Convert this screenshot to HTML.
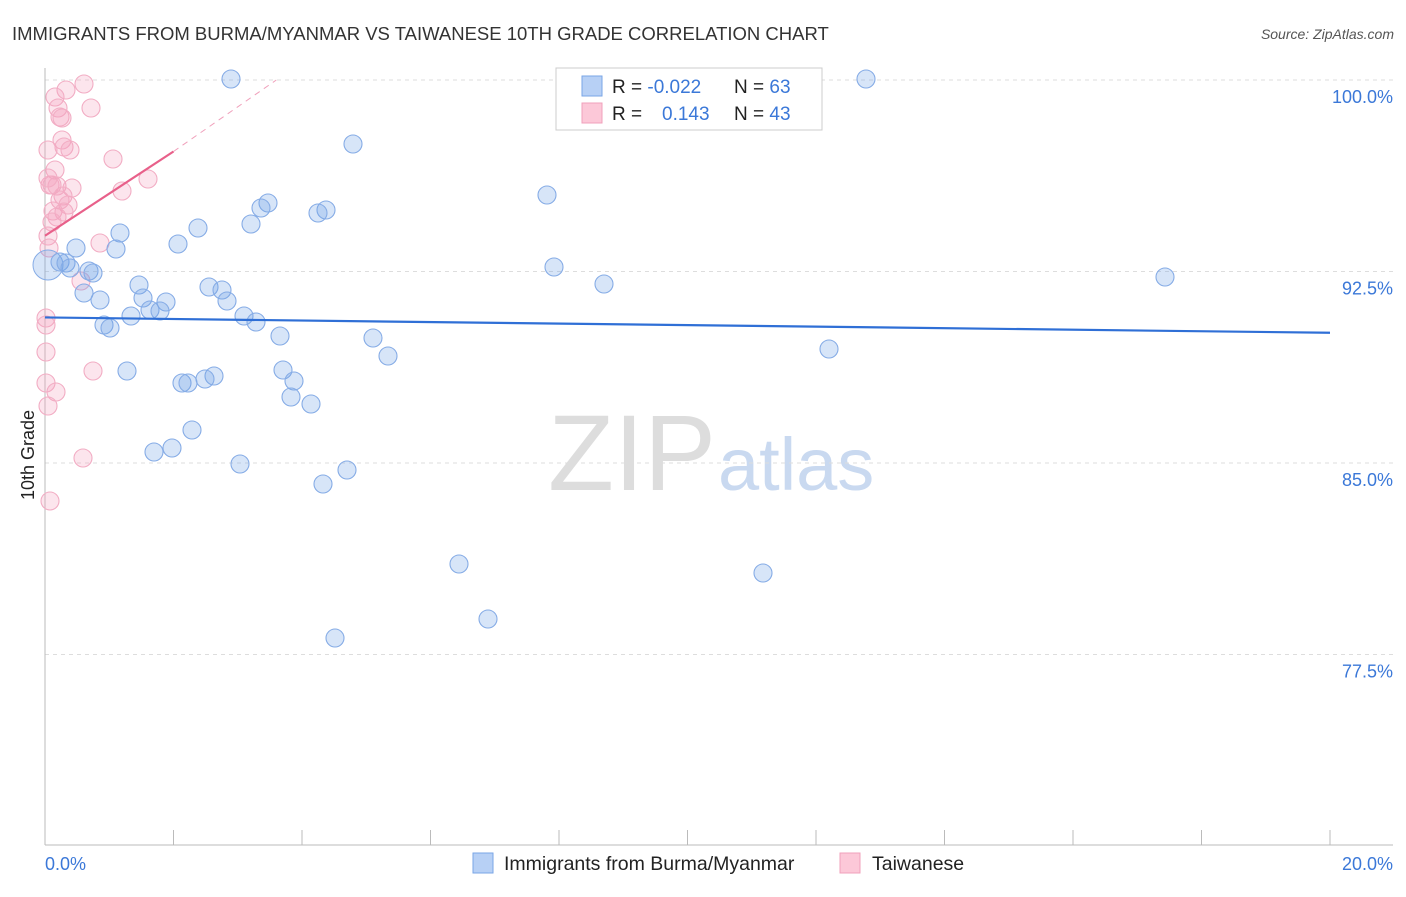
<!DOCTYPE html>
<html><head><meta charset="utf-8"><style>
body{margin:0;background:#fff;font-family:"Liberation Sans",sans-serif}
svg text{font-family:"Liberation Sans",sans-serif}
</style></head><body>
<svg width="1406" height="892" viewBox="0 0 1406 892">
<text x="12" y="40" font-size="18.5" fill="#333">IMMIGRANTS FROM BURMA/MYANMAR VS TAIWANESE 10TH GRADE CORRELATION CHART</text>
<text x="1394" y="39" font-size="14" fill="#555" text-anchor="end" font-style="italic">Source: ZipAtlas.com</text>
<text x="716" y="490" font-size="108" fill="#ddd" text-anchor="end" font-family="Liberation Serif">ZIP</text>
<text x="718" y="490" font-size="74" fill="#c9d9f0">atlas</text>
<g id="grid"></g>
<line x1="45" y1="68" x2="45" y2="845" stroke="#bbb"/>
<line x1="45" y1="845" x2="1393" y2="845" stroke="#bbb"/>
<g id="xt"></g>
<text x="45" y="870" font-size="18" fill="#3b78d8">0.0%</text>
<text x="1393" y="870" font-size="18" fill="#3b78d8" text-anchor="end">20.0%</text>
<text transform="translate(34,455) rotate(-90)" font-size="18" fill="#222" text-anchor="middle">10th Grade</text>
<g id="pts"></g>
<g id="lines"></g>
<g>
<rect x="556" y="68" width="266" height="62" fill="#fff" stroke="#ccc"/>
<rect x="582" y="76" width="20" height="20" fill="#b7d0f5" stroke="#7aa6e6"/>
<rect x="582" y="103" width="20" height="20" fill="#fcc8d8" stroke="#f0a0bb"/>
<text x="612" y="93" font-size="19" fill="#222">R = <tspan fill="#3b78d8">-0.022</tspan></text>
<text x="734" y="93" font-size="19" fill="#222">N = <tspan fill="#3b78d8">63</tspan></text>
<text x="612" y="120" font-size="19" fill="#222">R = <tspan fill="#3b78d8" x="662">0.143</tspan></text>
<text x="734" y="120" font-size="19" fill="#222">N = <tspan fill="#3b78d8">43</tspan></text>
</g>
<g>
<rect x="473" y="853" width="20" height="20" fill="#b7d0f5" stroke="#7aa6e6"/>
<text x="504" y="870" font-size="19.5" fill="#222">Immigrants from Burma/Myanmar</text>
<rect x="840" y="853" width="20" height="20" fill="#fcc8d8" stroke="#f0a0bb"/>
<text x="872" y="870" font-size="19.5" fill="#222">Taiwanese</text>
</g>
</svg>
<script>
const yTicks=[100,92.5,85,77.5];
const yTickLabels=["100.0%","92.5%","85.0%","77.5%"];
const blueX=[231,353,547,866,685,268,261,326,318,251,198,120,178,76,116,60,66,70,89,93,554,1165,604,139,209,222,84,143,166,100,227,150,160,131,244,256,104,110,280,373,388,829,127,283,214,205,294,182,188,291,311,192,172,154,240,347,323,459,763,488,335].map(p=>(p-45)/1285*20);
const blueY=[79,144,195,79,79,203,208,210,213,224,228,233,244,248,249,262,263,268,271,273,267,277,284,285,287,290,293,298,302,300,301,310,311,316,316,322,325,328,336,338,356,349,371,370,376,379,381,383,383,397,404,430,448,452,464,470,484,564,573,619,638].map(p=>100-(p-80)/191.5*7.5);
const pinkX=[84,66,55,58,91,60,62,62,64,70,113,48,55,148,50,52,57,72,122,63,60,68,53,64,57,48,49,100,81,46,46,46,93,46,56,48,83,50,52,48].map(p=>(p-45)/1285*20);
const pinkY=[84,90,97,108,108,117,118,140,147,150,159,150,170,179,185,185,186,188,191,196,200,205,211,212,217,236,248,243,281,318,325,352,371,383,392,406,458,501,222,178].map(p=>100-(p-80)/191.5*7.5);
const blueTrend=[90.7,90.1];
const pinkTrend=[93.9,97.2,100];
const NS="http://www.w3.org/2000/svg";
const X=v=>45+v/20*1285, Y=v=>80+(100-v)/7.5*191.5;
function mk(t,a,p){const e=document.createElementNS(NS,t);for(const k in a)e.setAttribute(k,a[k]);p.appendChild(e);return e;}
const grid=document.getElementById('grid');
yTicks.forEach((t,i)=>{
 const l=mk('line',{x1:45,x2:1393,y1:Y(t),y2:Y(t),stroke:'#ddd','stroke-dasharray':'4,4'},grid);
 
 
 const tx=mk('text',{x:1393,y:Y(t)+23,'font-size':18,fill:'#3b78d8','text-anchor':'end'},grid);
 tx.textContent=yTickLabels[i];
 
 
});
const xt=document.getElementById('xt');
for(let i=0;i<=10;i++){const l=mk('line',{x1:X(i*2),x2:X(i*2),y1:830,y2:845,stroke:'#bbb'},xt);
 
 }
const pts=document.getElementById('pts');
pinkX.forEach((x,i)=>{const c=mk('circle',{cx:X(x),cy:Y(pinkY[i]),r:9,fill:'rgba(245,160,190,0.28)',stroke:'#f2adc4','stroke-width':1.1},pts);
 
 });
const big=mk('circle',{cx:48,cy:265,r:15,fill:'rgba(110,160,230,0.28)',stroke:'#86ace6'},pts);


blueX.forEach((x,i)=>{const c=mk('circle',{cx:X(x),cy:Y(blueY[i]),r:9,fill:'rgba(110,160,230,0.28)',stroke:'#86ace6','stroke-width':1.1},pts);
 
 });
const ln=document.getElementById('lines');
const b=mk('line',{x1:X(0),y1:Y(blueTrend[0]),x2:X(20),y2:Y(blueTrend[1]),stroke:'#2f6fd6','stroke-width':2.2},ln);


const p1=mk('line',{x1:X(0),y1:Y(pinkTrend[0]),x2:X(2),y2:Y(pinkTrend[1]),stroke:'#e8608a','stroke-width':2.2},ln);


const p2=mk('line',{x1:X(2),y1:Y(pinkTrend[1]),x2:X(3.6),y2:Y(pinkTrend[2]),stroke:'#f0a0bb','stroke-width':1,'stroke-dasharray':'6,5'},ln);


</script>
</body></html>
